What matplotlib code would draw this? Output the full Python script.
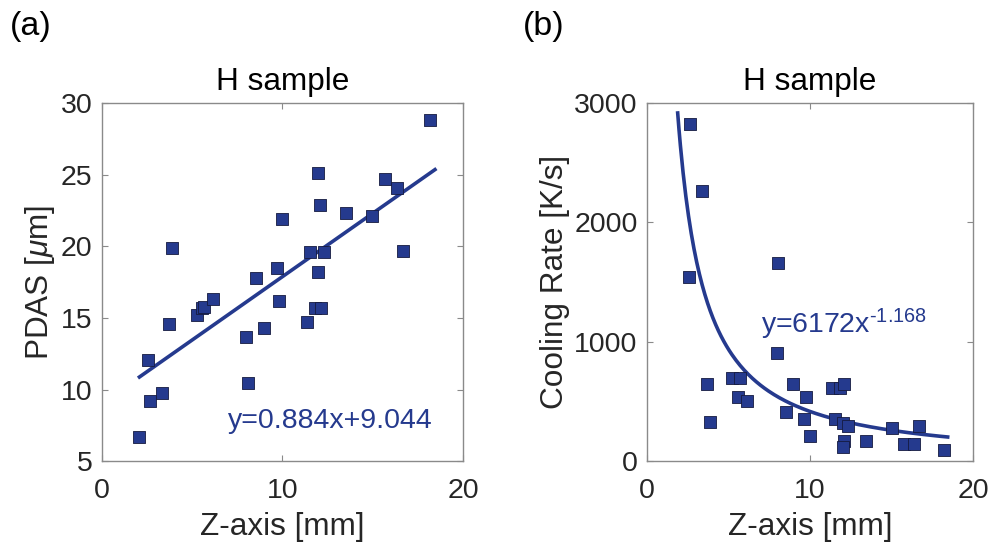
import matplotlib
matplotlib.use('Agg')
import matplotlib.pyplot as plt
import numpy as np

plt.rcParams['font.family'] = ['Liberation Sans', 'DejaVu Sans']
plt.rcParams['mathtext.fontset'] = 'custom'
plt.rcParams['mathtext.rm'] = 'Liberation Sans'
plt.rcParams['mathtext.it'] = 'Liberation Sans:italic'

# (a) PDAS vs Z-axis
pdas_z = [2.09, 2.59, 2.68, 3.35, 3.70, 3.87, 5.28, 5.55, 5.68, 6.17,
          8.00, 8.11, 8.57, 8.98, 9.68, 9.79, 9.98, 11.39, 11.52, 11.80,
          11.98, 12.06, 11.96, 12.13, 12.28, 13.50, 14.96, 15.68, 16.37, 16.68, 18.20]
pdas_um = [6.7, 12.1, 9.2, 9.8, 14.6, 19.9, 15.2, 15.7, 15.8, 16.3,
           13.7, 10.5, 17.8, 14.3, 18.5, 16.2, 21.9, 14.7, 19.6, 15.7,
           25.1, 22.9, 18.2, 15.7, 19.6, 22.3, 22.1, 24.7, 24.1, 19.7, 28.8]
lin_fit = [0.884, 9.044]        # slope, intercept
lin_range = [2.09, 18.45]

# (b) cooling rate vs Z-axis
cool_z = [2.65, 3.39, 2.59, 8.08, 7.98, 3.70, 3.86, 5.24, 5.71, 5.59,
          6.16, 8.98, 8.57, 9.77, 9.65, 10.02, 11.39, 11.82, 12.08, 11.55,
          12.04, 12.33, 12.08, 12.02, 13.47, 15.04, 15.76, 16.39, 16.69, 18.20]
cool_rate = [2821, 2262, 1543, 1661, 909, 651, 333, 696, 696, 540,
             503, 651, 414, 540, 352, 210, 615, 615, 651, 352,
             319, 294, 168, 123, 174, 277, 143, 143, 299, 98]
pow_fit = [6172, -1.168]        # coefficient, exponent
pow_range = [1.9, 18.45]

blue = '#253a8e'
axis_grey = '#8a8a8a'
text_col = '#262626'

fig = plt.figure(figsize=(9.92, 5.49), dpi=100)
ax1 = fig.add_axes([0.1025, 0.1594, 0.3642, 0.653])
ax2 = fig.add_axes([0.6519, 0.1594, 0.3289, 0.653])


def style_axes(ax):
    for sp in ax.spines.values():
        sp.set_color(axis_grey)
        sp.set_linewidth(1.0)
    ax.tick_params(direction='in', length=4, width=0.8, color=axis_grey,
                   top=True, right=True, labelsize=20.5, labelcolor=text_col)
    ax.tick_params(axis='x', pad=12)
    ax.tick_params(axis='y', pad=6.5)
    ax.set_title('H sample', fontsize=22.7, color='black', pad=9)
    ax.set_xlabel('Z-axis [mm]', fontsize=22.7, color=text_col, labelpad=6)


# panel (a)
ax1.scatter(pdas_z, pdas_um, marker='s', s=75, facecolor=blue,
            edgecolor='#151a40', linewidth=0.6, zorder=3)
xl = np.array(lin_range)
ax1.plot(xl, lin_fit[0] * xl + lin_fit[1], color=blue, lw=2.6, zorder=2)
ax1.set_xlim(0, 20)
ax1.set_ylim(5, 30)
ax1.set_xticks([0, 10, 20])
ax1.set_yticks([5, 10, 15, 20, 25, 30])
style_axes(ax1)
ax1.set_ylabel(r'PDAS [$\mu$m]', fontsize=22.7, color=text_col, labelpad=3)
ax1.text(7.0, 7.37, 'y=0.884x+9.044', fontsize=20.5, color=blue,
         ha='left', va='baseline')

# panel (b)
ax2.scatter(cool_z, cool_rate, marker='s', s=75, facecolor=blue,
            edgecolor='#151a40', linewidth=0.6, zorder=3)
xp = np.linspace(pow_range[0], pow_range[1], 200)
ax2.plot(xp, pow_fit[0] * xp ** pow_fit[1], color=blue, lw=2.6, zorder=2)
ax2.set_xlim(0, 20)
ax2.set_ylim(0, 3000)
ax2.set_xticks([0, 10, 20])
ax2.set_yticks([0, 1000, 2000, 3000])
style_axes(ax2)
ax2.set_ylabel('Cooling Rate [K/s]', fontsize=22.7, color=text_col, labelpad=3)
ax2.text(7.0, 1070, r'y=6172x$^{\mathregular{\text{-}1.168}}$', fontsize=20.5,
         color=blue, ha='left', va='baseline')

fig.text(0.010, 0.951, '(a)', fontsize=24.5, ha='left', va='center')
fig.text(0.527, 0.951, '(b)', fontsize=24.5, ha='left', va='center')

fig.savefig('out.png', dpi=100)
